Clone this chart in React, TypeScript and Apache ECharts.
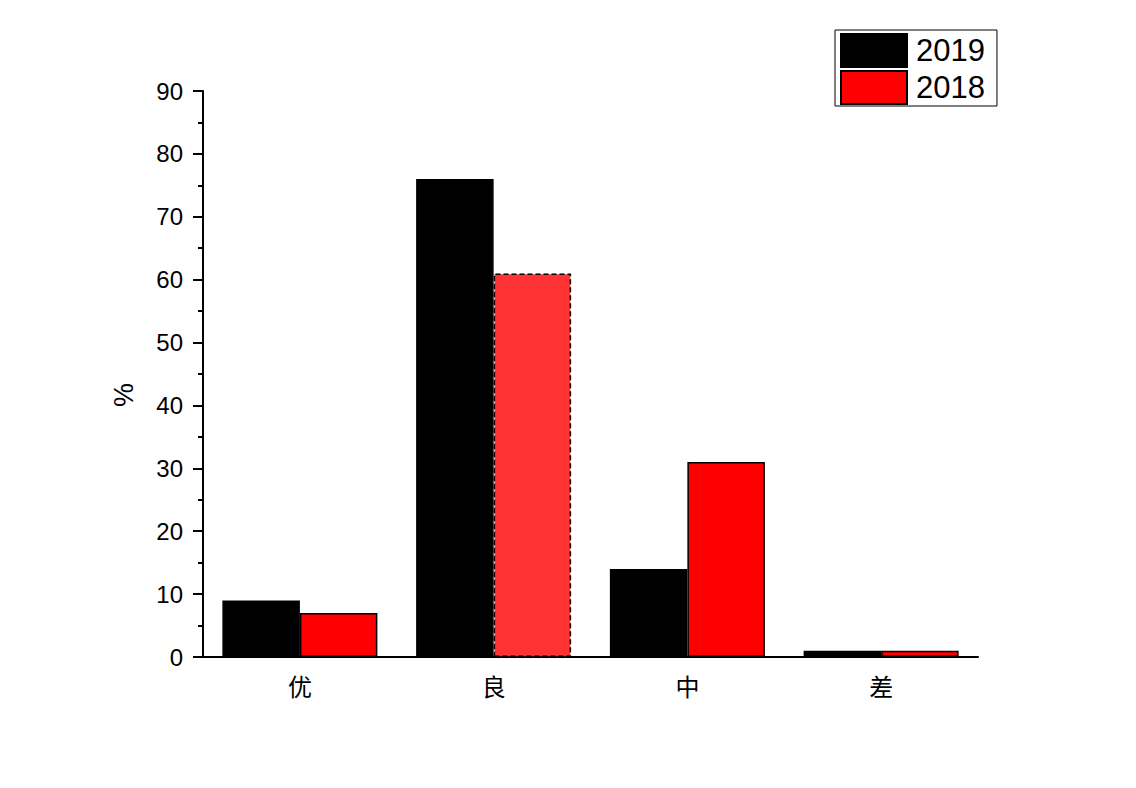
import React, { useEffect, useRef } from "react";
import * as echarts from "echarts";

const categories = ["优", "良", "中", "差"];
const values2019 = [9, 76, 14, 1];
const values2018 = [7, 61, 31, 1];
const yTicks = { min: 0, max: 90, interval: 10 };
const yName = "%";

export default function App() {
  const ref = useRef<HTMLDivElement>(null);
  useEffect(() => {
    if (!ref.current) return;
    const chart = echarts.init(ref.current, undefined, { renderer: "svg" });
    const latin = "'Liberation Sans', Arial, sans-serif";
    const cjk = "'Noto Sans CJK SC', sans-serif";
    chart.setOption({
      animation: false,
      backgroundColor: "#ffffff",
      grid: { left: 203, right: 158, top: 91, bottom: 131, containLabel: false },
      legend: {
        orient: "vertical",
        left: 835,
        top: 30,
        padding: [3, 12, 1, 5],
        itemGap: 2,
        itemWidth: 66,
        itemHeight: 33,
        icon: "rect",
        borderColor: "#000",
        borderWidth: 1,
        textStyle: { fontSize: 31, lineHeight: 33, fontFamily: latin, color: "#000", padding: [0, 0, 0, 4] },
        data: ["2019", "2018"],
      },
      graphic: [
        {
          type: "text",
          x: 124,
          y: 395,
          rotation: Math.PI / 2,
          style: {
            text: yName,
            fontSize: 27,
            fontFamily: latin,
            fill: "#000",
            align: "center",
            verticalAlign: "middle",
          },
        },
      ],
      xAxis: [
        {
          type: "category",
          data: categories,
          axisLine: { lineStyle: { color: "#000", width: 2 } },
          axisTick: { alignWithLabel: true, length: 10, lineStyle: { color: "#000", width: 2 } },
          axisLabel: { fontSize: 24, fontFamily: cjk, color: "#000", margin: 16 },
        },
        {
          type: "category",
          data: categories,
          position: "bottom",
          axisLine: { show: false },
          axisTick: { length: 5, lineStyle: { color: "#000", width: 2 } },
          axisLabel: { show: false },
        },
      ],
      yAxis: {
        type: "value",
        min: yTicks.min,
        max: yTicks.max,
        interval: yTicks.interval,
        splitLine: { show: false },
        axisLine: { show: true, lineStyle: { color: "#000", width: 2 } },
        axisTick: { show: true, length: 10, lineStyle: { color: "#000", width: 2 } },
        minorTick: { show: true, splitNumber: 2, length: 5, lineStyle: { color: "#000", width: 2 } },
        axisLabel: { fontSize: 24, fontFamily: latin, color: "#000", margin: 20 },
      },
      series: [
        {
          name: "2019",
          type: "bar",
          xAxisIndex: 0,
          barGap: "0%",
          barCategoryGap: "20%",
          itemStyle: { color: "#000000", borderColor: "#000", borderWidth: 1.5 },
          data: values2019,
        },
        {
          name: "2018",
          type: "bar",
          xAxisIndex: 0,
          barGap: "0%",
          barCategoryGap: "20%",
          itemStyle: { color: "#ff0000", borderColor: "#000", borderWidth: 1.5 },
          data: values2018.map((v, i) =>
            i === 1
              ? { value: v, itemStyle: { color: "#ff3333", borderColor: "#000", borderWidth: 1.5, borderType: [5, 3] } }
              : v
          ),
        },
      ],
    });
    return () => chart.dispose();
  }, []);
  return (
    <div
      ref={ref}
      style={{ position: "fixed", left: 0, top: 0, width: 1136, height: 788, background: "#fff" }}
    />
  );
}
